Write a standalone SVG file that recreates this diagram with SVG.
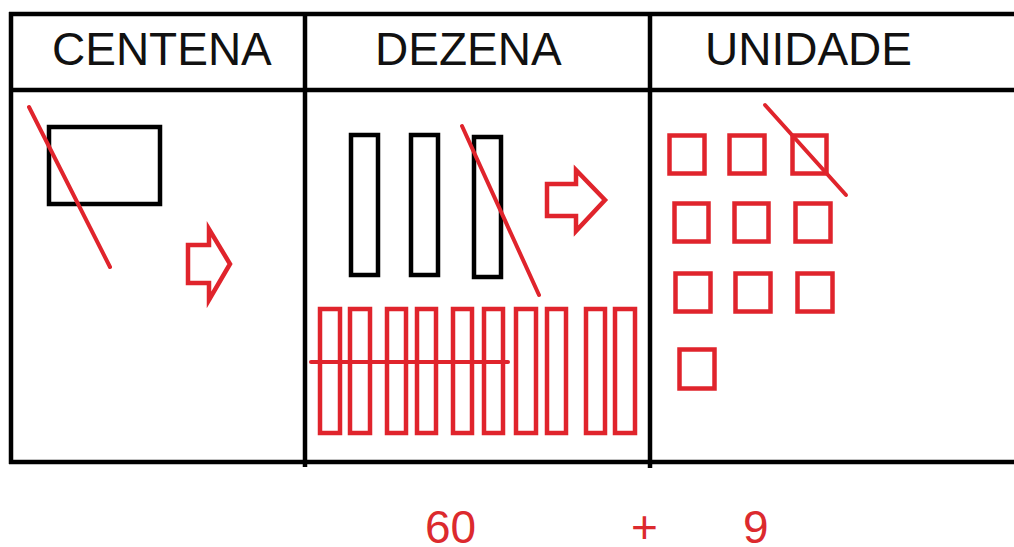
<svg xmlns="http://www.w3.org/2000/svg" width="1014" height="547" viewBox="0 0 1014 547">
<style>
.frame{stroke:#000;stroke-width:4.5;fill:none}
.blk{stroke:#000;stroke-width:4.5;fill:none}
.red{stroke:#e0242c;stroke-width:4.5;fill:none}
.strike{stroke:#e0242c;stroke-width:4;fill:none;stroke-linecap:round}
.hdr{font-family:"Liberation Sans",Arial,sans-serif;font-size:46px;fill:#111}
.num{font-family:"Liberation Sans",Arial,sans-serif;font-size:46px;fill:#dc2a2e}
</style>
<rect width="1014" height="547" fill="#fff"/>
<g id="table">
<line class="frame" x1="9" y1="14" x2="1014" y2="14"/>
<line class="frame" x1="9" y1="90" x2="1014" y2="90"/>
<line class="frame" x1="9" y1="462" x2="1014" y2="462"/>
<line class="frame" x1="11" y1="12" x2="11" y2="464"/>
<line class="frame" x1="305" y1="12" x2="305" y2="467"/>
<line class="frame" x1="650" y1="12" x2="650" y2="468"/>
</g>
<g id="headers">
<text class="hdr" x="52" y="65">CENTENA</text>
<text class="hdr" x="375" y="65">DEZENA</text>
<text class="hdr" x="705" y="65">UNIDADE</text>
</g>
<g id="centena">
<rect class="blk" x="49" y="127" width="111" height="77"/>
<line class="strike" x1="29" y1="107" x2="110" y2="267"/>
<polygon class="red" points="188,245 209,245 209,229 230,264 209,300 209,283 188,283"/>
</g>
<g id="dezena">
<rect class="blk" x="351" y="135" width="27" height="140"/>
<rect class="blk" x="411" y="135" width="27" height="140"/>
<rect class="blk" x="474" y="137" width="27" height="140"/>
<line class="strike" x1="462" y1="126" x2="539" y2="295"/>
<polygon class="red" points="547,184 576,184 576,170 605,200 576,231 576,216 547,216"/>
<g id="dezena-bars">
<rect class="red" x="320" y="309" width="20" height="124"/>
<rect class="red" x="350" y="309" width="20" height="124"/>
<rect class="red" x="387" y="309" width="19" height="124"/>
<rect class="red" x="417" y="309" width="19" height="124"/>
<rect class="red" x="453" y="309" width="19" height="124"/>
<rect class="red" x="484" y="309" width="19" height="124"/>
<rect class="red" x="516" y="309" width="20" height="124"/>
<rect class="red" x="547" y="309" width="19" height="124"/>
<rect class="red" x="586" y="309" width="19" height="124"/>
<rect class="red" x="615" y="309" width="20" height="124"/>
</g>
<line class="strike" x1="311" y1="362" x2="508" y2="362"/>
</g>
<g id="unidade">
<rect class="red" x="669.5" y="135.5" width="35" height="38"/>
<rect class="red" x="729.5" y="135.5" width="35" height="38"/>
<rect class="red" x="792.5" y="135.5" width="34" height="38"/>
<rect class="red" x="674.5" y="203.5" width="34" height="38"/>
<rect class="red" x="734.5" y="203.5" width="34" height="38"/>
<rect class="red" x="795.5" y="203.5" width="35" height="38"/>
<rect class="red" x="675.5" y="273.5" width="35" height="38"/>
<rect class="red" x="735.5" y="273.5" width="35" height="38"/>
<rect class="red" x="797.5" y="273.5" width="35" height="38"/>
<rect class="red" x="679.5" y="349.5" width="35" height="39"/>
<line class="strike" x1="765" y1="105" x2="846" y2="195"/>
</g>
<g id="sum">
<text class="num" x="425" y="543">60</text>
<text class="num" x="631" y="543">+</text>
<text class="num" x="743" y="543">9</text>
</g>
</svg>
